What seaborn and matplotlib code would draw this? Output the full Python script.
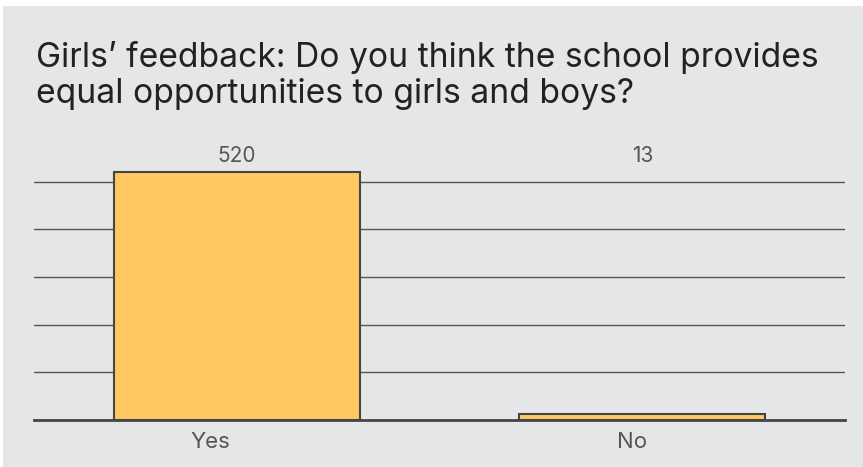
import matplotlib
matplotlib.use("Agg")
import matplotlib.pyplot as plt
import matplotlib.transforms as mtransforms
import seaborn as sns
import pandas as pd
from matplotlib.patches import Rectangle

categories = ["Yes", "No"]
values = [520, 13]
title = "Girls’ feedback: Do you think the school provides\nequal opportunities to girls and boys?"

sns.set_theme(style="white")
plt.rcParams["font.family"] = ["Inter", "DejaVu Sans"]

W, H = 863, 467
fig = plt.figure(figsize=(W / 100, H / 100), dpi=100)
fig.patch.set_facecolor("white")
bg = "#E5E6E8"
fig.patches.append(Rectangle((3 / W, 0), 1, 1 - 6 / H, transform=fig.transFigure,
                             facecolor=bg, edgecolor="none", zorder=-10))

ax = fig.add_axes([34 / W, 1 - 420 / H, (845 - 34) / W, (420 - 150) / H])
ax.set_facecolor("none")

df = pd.DataFrame({"answer": categories, "count": values})
sns.barplot(data=df, x="answer", y="count", ax=ax, color="#FFC962",
            saturation=1, width=0.606, edgecolor="#444444", linewidth=1.5, zorder=3)

ymax = 520 * (420 - 150) / (420 - 172)
ax.set_ylim(0, ymax)
ax.set_xlim(-0.5, 1.5)
ax.set_yticks([100, 200, 300, 400, 500])
ax.yaxis.grid(True, color="#555555", linewidth=1)
ax.set_axisbelow(True)
ax.set_yticklabels([])
ax.tick_params(axis="y", length=0)
ax.tick_params(axis="x", length=0, pad=9, labelsize=16, labelcolor="#555555")
for s in ["top", "right", "left"]:
    ax.spines[s].set_visible(False)
ax.spines["bottom"].set_color("#444444")
ax.spines["bottom"].set_linewidth(2)
ax.spines["bottom"].set_zorder(4)
ax.set_xlabel("")
ax.set_ylabel("")

# tick labels sit slightly left of bar centres in the reference
shifts = [-26, -10]
for lab, dx in zip(ax.get_xticklabels(), shifts):
    lab.set_transform(lab.get_transform() +
                      mtransforms.ScaledTranslation(dx / 100, 0, fig.dpi_scale_trans))

label_y = (420 - 162) / (420 - 150)
for i, v in enumerate(values):
    ax.text(i, label_y, str(v), transform=ax.get_xaxis_transform(), ha="center", va="baseline",
            fontsize=15, color="#555555")

fig.text(36 / W, 1 - 41 / H, title, ha="left", va="top", fontsize=24.2,
         color="#222222", linespacing=1.16)

fig.savefig("out.png", dpi=100, facecolor=fig.get_facecolor())
